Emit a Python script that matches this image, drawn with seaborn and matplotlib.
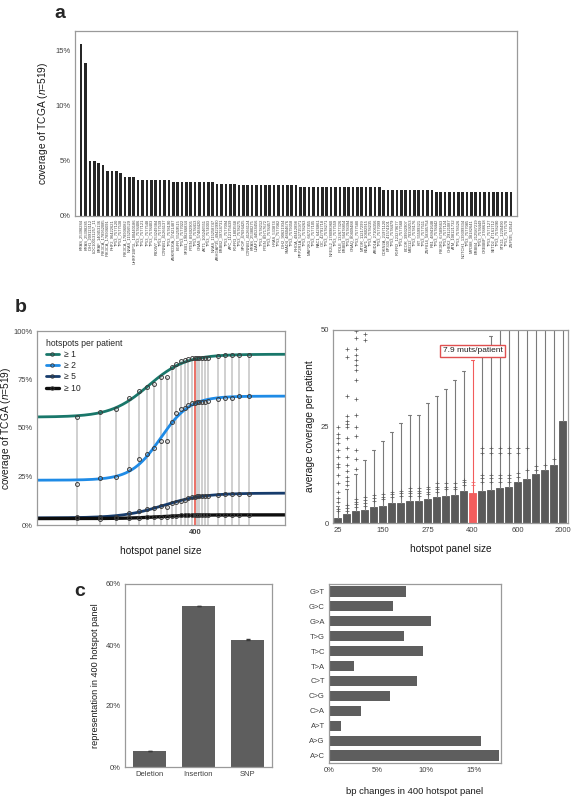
import numpy as np
import matplotlib
matplotlib.use('Agg')
import matplotlib.pyplot as plt
from matplotlib.lines import Line2D
from matplotlib.ticker import PercentFormatter, NullLocator
import seaborn as sns

sns.set_style('white')
plt.rcParams['font.family'] = ['Liberation Sans', 'DejaVu Sans']
plt.rcParams['mathtext.fontset'] = 'custom'
plt.rcParams['mathtext.rm'] = 'Liberation Sans'
plt.rcParams['mathtext.it'] = 'Liberation Sans:italic'
plt.rcParams['axes.edgecolor'] = '#9a9a9a'
plt.rcParams['axes.linewidth'] = 0.9
plt.rcParams['xtick.color'] = '#404040'
plt.rcParams['ytick.color'] = '#404040'
plt.rcParams['axes.labelcolor'] = '#1a1a1a'

# ---- panel a: coverage of single hotspots ----
hotspots = [
    'KRAS_25398284', 'KRAS_25398285', 'IDH1_209113112', 'LOC100131257_11', 'BRAF_140453136',
    'PIK3CA_178952085', 'PIK3CA_178936091', 'PHF2_96422621', 'TP53_7577120', 'TP53_7577538',
    'PIK3CA_178936082', 'NRAS_115256529', 'UHRF1BP1L_100440186', 'TP53_7578406', 'TP53_7577121',
    'TP53_7577548', 'TP53_7578403', 'FBXW7_153249384', 'TP53_7577539', 'CTNNB1_41266137',
    'TP53_7578190', 'ANKRD30A_37421487', 'EGFR_55259515', 'TP53_7577022', 'SF3B1_198266834',
    'PTEN_89692905', 'TP53_7578413', 'GNAS_57484420', 'AKT1_105246551', 'TP53_7574003',
    'NRAS_115258747', 'ARHGAP35_49422990', 'ERBB2_39724731', 'TP53_7577094', 'APC_112175639',
    'FGFR3_1803568', 'TP53_7578275', 'SPOP_47696425', 'CTNNB1_41266124', 'KRAS_25380275',
    'U2AF1_44524456', 'TP53_7578212', 'PTEN_89717672', 'TP53_7578457', 'HRAS_533874',
    'TP53_7577082', 'IDH2_90631934', 'SMAD4_48604676', 'TP53_7579358', 'RHOA_49412898',
    'PPP2R1A_52715971', 'TP53_7578263', 'MAP2K1_66727455', 'TP53_7577105', 'RAC1_6426861',
    'CIC_42791718', 'TP53_7578271', 'NFE2L2_178098960', 'TP53_7577559', 'POLE_132677326',
    'ERBB3_56478854', 'TP53_7578394', 'GNAQ_80409488', 'TP53_7577580', 'MTOR_11217299',
    'KEAP1_10602915', 'TP53_7578235', 'ARID1A_27106356', 'TP53_7577099', 'CDKN2A_21971120',
    'EP300_41574101', 'TP53_7578479', 'FGFR2_123279677', 'TP53_7577568', 'BCOR_39932907',
    'MED12_70339253', 'TP53_7578176', 'KIT_55599321', 'TP53_7577511', 'ZNF814_58385754',
    'RB1_48941648', 'TP53_7578442', 'PIK3R1_67589663', 'TP53_7577124', 'CHEK2_29121087',
    'ATM_108121732', 'TP53_7578526', 'NOTCH1_139399334', 'TP53_7577085', 'MYD88_38182641',
    'ERBB4_212587219', 'TP53_7578449', 'CREBBP_3788618', 'TP53_7577127', 'SETD2_47161712',
    'TP53_7578290', 'STK11_1220490', 'TP53_7577570', 'ZNF595_53542',
]
hotspot_cov = [
    15.6, 13.9, 5.0, 5.0, 4.8, 4.6, 4.1, 4.1, 4.1, 3.9,
    3.5, 3.5, 3.5, 3.3, 3.3, 3.3, 3.3, 3.3, 3.3, 3.3,
    3.3, 3.1, 3.1, 3.1, 3.1, 3.1, 3.1, 3.1, 3.1, 3.1,
    3.1, 2.9, 2.9, 2.9, 2.9, 2.9, 2.8, 2.8, 2.8, 2.8,
    2.8, 2.8, 2.8, 2.8, 2.8, 2.8, 2.8, 2.8, 2.8, 2.8,
    2.6, 2.6, 2.6, 2.6, 2.6, 2.6, 2.6, 2.6, 2.6, 2.6,
    2.6, 2.6, 2.6, 2.6, 2.6, 2.6, 2.6, 2.6, 2.6, 2.4,
    2.4, 2.4, 2.4, 2.4, 2.4, 2.4, 2.4, 2.4, 2.4, 2.4,
    2.4, 2.2, 2.2, 2.2, 2.2, 2.2, 2.2, 2.2, 2.2, 2.2,
    2.2, 2.2, 2.2, 2.2, 2.2, 2.2, 2.2, 2.2, 2.2,
]

# ---- panel b: panel size ----
panel_sizes = [25, 50, 75, 100, 125, 150, 175, 200, 225, 250, 275, 300, 325,
               350, 375, 400, 425, 450, 500, 550, 600, 800, 1000, 1200, 1500, 2000]
cov_ge1 = [55.8, 58.1, 60.0, 65.6, 69.1, 71.0, 72.8, 76.5, 76.1, 81.3, 82.8, 84.7, 85.1,
           85.4, 85.9, 85.9, 85.9, 85.9, 85.9, 86.0, 86.1, 86.9, 87.4, 87.4, 87.6, 87.8]
cov_ge2 = [21.1, 24.1, 24.9, 28.9, 33.9, 36.4, 39.5, 43.5, 43.5, 53.1, 57.9, 59.8, 60.5,
           62.0, 62.7, 63.1, 63.2, 63.4, 63.4, 63.6, 63.9, 64.9, 65.3, 65.3, 66.5, 66.5]
cov_ge5 = [4.0, 4.0, 4.2, 6.0, 7.4, 8.1, 8.9, 9.6, 9.3, 11.2, 11.9, 12.5, 12.9,
           13.9, 14.4, 14.6, 14.8, 14.8, 14.9, 15.0, 15.0, 15.6, 15.9, 15.9, 16.1, 16.1]
cov_ge10 = [3.4, 3.3, 3.4, 3.6, 3.8, 4.0, 4.1, 4.3, 4.3, 4.6, 4.8, 4.9, 5.0,
            5.0, 5.0, 5.0, 5.0, 5.0, 5.1, 5.1, 5.1, 5.2, 5.2, 5.2, 5.2, 5.2]
threshold_labels = ['\u2265 1', '\u2265 2', '\u2265 5', '\u2265 10']

box_q3 = [1.4, 2.3, 3.1, 3.4, 4.2, 4.4, 5.1, 5.3, 5.7, 5.7, 6.3, 6.7, 7.1,
          7.3, 8.2, 7.9, 8.4, 8.6, 9.0, 9.2, 10.5, 11.5, 12.6, 13.8, 15.1, 26.5]
whisker_top = [4.4, 8.7, 12.6, 16.2, 18.8, 21.2, 23.7, 26.0, 27.9, 27.9, 31.1, 32.9, 34.8,
               37.0, 39.3, 42.3, 45.0, 48.4, 55.0, 58.0, 62.0, 66.0, 70.0, 75.0, 80.0, 95.0]
outliers = [
    [3.0, 3.7, 5.5, 6.4, 8.1, 10.3, 12.5, 14.6, 15.2, 17.2, 18.9, 20.6, 21.9, 23.1, 25.0],
    [3.2, 4.0, 4.7, 9.8, 10.8, 12.0, 13.5, 15.0, 17.2, 19.5, 22.1, 25.0, 25.7, 26.4, 27.6,
     33.0, 43.0, 45.2],
    [4.1, 4.8, 5.5, 6.2, 14.0, 16.5, 19.0, 22.5, 25.0, 28.0, 32.0, 37.1, 39.7, 41.0, 42.3,
     43.6, 45.0, 47.9, 49.7],
    [4.4, 5.1, 6.0, 6.7, 47.3, 49.0],
    [5.8, 6.5, 7.2],
    [6.1, 6.8, 7.5],
    [6.8, 7.5, 8.1],
    [7.0, 7.7, 8.4],
    [7.0, 7.7, 8.3, 9.0],
    [7.0, 7.7, 8.3, 9.0],
    [7.5, 8.0, 8.7, 9.4],
    [8.0, 8.7, 9.4, 10.3],
    [8.7, 9.4, 10.3],
    [8.7, 9.4, 10.3],
    [9.8, 10.5, 11.2],
    [9.8, 10.5],
    [10.7, 11.6, 12.5, 18.2, 19.4],
    [10.7, 11.6, 12.5, 18.2, 19.4],
    [10.7, 11.6, 12.5, 18.2, 19.4],
    [10.7, 11.6, 12.5, 18.2, 19.4],
    [12.0, 12.9, 18.2, 19.4],
    [13.8, 19.4],
    [13.8, 14.8],
    [15.0],
    [16.5],
    [],
]
muts_400 = '7.9 muts/patient'

# ---- panel c: mutation classes in the 400 panel ----
mut_types = ['Deletion', 'Insertion', 'SNP']
mut_share = [5.3, 52.8, 41.8]
mut_err = [0.1, 0.15, 0.1]
bp_changes = ['G>T', 'G>C', 'G>A', 'T>G', 'T>C', 'T>A',
              'C>T', 'C>G', 'C>A', 'A>T', 'A>G', 'A>C']
bp_share = [8.0, 6.6, 10.6, 7.8, 9.7, 2.6, 9.1, 6.3, 3.3, 1.2, 15.7, 17.6]

# panel-size axis of b: log(size + 20), squeezed above 400
KNEE = np.log10(420)
SQUEEZE = 0.65


def size_fwd(x):
    u = np.log10(np.maximum(np.asarray(x, float), -19.9) + 20)
    return np.where(u <= KNEE, u, KNEE + SQUEEZE * (u - KNEE))


def size_inv(f):
    f = np.asarray(f, float)
    u = np.where(f <= KNEE, f, KNEE + (f - KNEE) / SQUEEZE)
    return 10 ** u - 20


def logistic_fit(x, y, grid):
    # least squares logistic on the size axis: grid search for midpoint/slope,
    # closed form for the two asymptotes
    fx = size_fwd(x)
    y = np.asarray(y, float)
    mids = np.linspace(1.4, 3.4, 201)[:, None, None]
    slopes = np.linspace(0.5, 30, 119)[None, :, None]
    z = 1 / (1 + np.exp(-slopes * (fx - mids)))
    zm = z.mean(-1, keepdims=True)
    ym = y.mean()
    b = ((z - zm) * (y - ym)).sum(-1) / ((z - zm) ** 2).sum(-1)
    a = ym - b * zm[..., 0]
    err = ((a[..., None] + b[..., None] * z - y) ** 2).sum(-1)
    i, j = np.unravel_index(np.argmin(err), err.shape)
    m, s = mids[i, 0, 0], slopes[0, j, 0]
    return a[i, j] + b[i, j] / (1 + np.exp(-s * (size_fwd(grid) - m)))


W, H = 572, 797
fig = plt.figure(figsize=(W / 100, H / 100), dpi=100)


def box(l, t, r, b):
    return [l / W, 1 - b / H, (r - l) / W, (b - t) / H]


tick_fs = 5.5
lab_fs = 7.3

# ---------------- a ----------------
ax = fig.add_axes(box(75, 31, 517, 216))
sns.barplot(x=hotspots, y=hotspot_cov, color='#262626', saturation=1, width=0.6,
            linewidth=0, ax=ax)
ax.set_xlim(-1.4, len(hotspots) - 1 + 1.4)
ax.set_ylim(0, 16.8)
ax.set_yticks([0, 5, 10, 15])
ax.yaxis.set_major_formatter(PercentFormatter(decimals=0))
ax.tick_params(axis='y', labelsize=tick_fs, length=0, pad=3)
ax.tick_params(axis='x', labelsize=2.9, length=0, pad=2, labelrotation=90)
ax.set_ylabel(r'coverage of TCGA ($\it{n}$=519)', fontsize=lab_fs, labelpad=4)
ax.set_xlabel('')
fig.text(60 / W, 1 - 13 / H, 'a', fontsize=14, fontweight='bold', ha='center', va='center')

# ---------------- b left ----------------
ax = fig.add_axes(box(37, 331, 285, 525))
ax.set_xscale('function', functions=(size_fwd, size_inv))
f25, f400 = size_fwd(25), size_fwd(400)
span = (f400 - f25) / ((195 - 77) / 248)
f_left = f25 - (77 - 37) / 248 * span
x0, x1 = float(size_inv(f_left)), float(size_inv(f_left + span))
ax.set_xlim(x0, x1)
ax.set_ylim(0, 100)
grey = [s for s in panel_sizes if s != 400]
ax.vlines(grey, 0, [c for s, c in zip(panel_sizes, cov_ge1) if s != 400],
          color='#c4c4c4', lw=1.1, zorder=1)
ax.vlines([400], 0, [cov_ge1[panel_sizes.index(400)]], color='#e8574c', lw=1.2, zorder=1)

curve_colors = ['#19776a', '#1f8be6', '#173c6c', '#0d0d0d']
curve_widths = [2.0, 2.0, 2.0, 2.4]
grid = size_inv(np.linspace(f_left, f_left + span, 300))
for cov, col, lw in zip([cov_ge1, cov_ge2, cov_ge5, cov_ge10], curve_colors, curve_widths):
    sns.lineplot(x=grid, y=logistic_fit(panel_sizes, cov, grid), color=col, lw=lw,
                 ax=ax, zorder=2)
    ax.plot(panel_sizes, cov, 'o', ms=2.8, mfc='none', mec='#3a3a3a', mew=0.7, zorder=3)

ax.xaxis.set_minor_locator(NullLocator())
ax.set_xticks([400])
ax.set_xticklabels(['400'], fontweight='bold')
ax.set_yticks([0, 25, 50, 75, 100])
ax.yaxis.set_major_formatter(PercentFormatter(decimals=0))
ax.tick_params(labelsize=tick_fs, length=0, pad=3)
ax.set_ylabel(r'coverage of TCGA ($\it{n}$=519)', fontsize=lab_fs, labelpad=0.5)
ax.set_xlabel('hotspot panel size', fontsize=lab_fs, labelpad=7)
handles = [Line2D([], [], color=c, lw=lw, marker='o', ms=2.5, mfc='none', mec='#333333',
                  mew=0.6) for c, lw in zip(curve_colors, curve_widths)]
leg = ax.legend(handles, threshold_labels, title='hotspots per patient', loc='upper left',
                frameon=False, fontsize=6.2, title_fontsize=6.2, handlelength=1.6,
                handletextpad=0.5, labelspacing=0.25, borderaxespad=0.3,
                bbox_to_anchor=(0.01, 0.99))
leg._legend_box.align = 'left'
fig.text(21 / W, 1 - 307 / H, 'b', fontsize=14, fontweight='bold', ha='center', va='center')

# ---------------- b right ----------------
ax = fig.add_axes(box(333, 330, 568, 523))
stats = [dict(q1=0, med=q, q3=q, whislo=0, whishi=w, fliers=f, label=str(s))
         for s, q, w, f in zip(panel_sizes, box_q3, whisker_top, outliers)]
bp = ax.bxp(stats, positions=range(len(stats)), widths=0.75, capwidths=0.3,
            patch_artist=True, showfliers=True,
            boxprops=dict(facecolor='#5a5a5a', edgecolor='#5a5a5a', lw=0.6),
            whiskerprops=dict(color='#7a7a7a', lw=0.8),
            capprops=dict(color='#7a7a7a', lw=0.8),
            medianprops=dict(lw=0),
            flierprops=dict(marker='+', ms=2.4, mec='#555555', mew=0.5))
i400 = panel_sizes.index(400)
red = '#f25c5c'
bp['boxes'][i400].set_facecolor(red)
bp['boxes'][i400].set_edgecolor(red)
for k in (2 * i400, 2 * i400 + 1):
    bp['whiskers'][k].set_color(red)
    bp['caps'][k].set_color(red)
bp['fliers'][i400].set_markeredgecolor(red)
ax.text(i400, 44.6, muts_400, ha='center', va='center', fontsize=6, color='#222222',
        zorder=5, bbox=dict(boxstyle='square,pad=0.3', fc='white', ec='#e05050', lw=1.0))
ax.set_xlim(-0.5, len(panel_sizes) - 0.4)
ax.set_ylim(0, 50)
ax.set_yticks([0, 25, 50])
ax.set_xticks(range(len(panel_sizes)))
ax.set_xticklabels([str(s) if i % 5 == 0 else '' for i, s in enumerate(panel_sizes)])
ax.tick_params(labelsize=tick_fs, length=0, pad=3)
ax.set_ylabel('average coverage per patient', fontsize=lab_fs, labelpad=4)
ax.set_xlabel('hotspot panel size', fontsize=lab_fs, labelpad=7)

# ---------------- c left ----------------
ax = fig.add_axes(box(125, 584, 272, 767))
sns.barplot(x=mut_types, y=mut_share, color='#5e5e5e', saturation=1, width=0.67,
            linewidth=0, ax=ax)
ax.errorbar(range(len(mut_types)), mut_share, yerr=mut_err, fmt='none', ecolor='#3a3a3a',
            elinewidth=0.5, capsize=1.2)
ax.set_xlim(-0.5, 2.5)
ax.set_ylim(0, 60)
ax.set_yticks([0, 20, 40, 60])
ax.yaxis.set_major_formatter(PercentFormatter(decimals=0))
ax.tick_params(labelsize=tick_fs, length=0, pad=3)
ax.set_ylabel('representation in 400 hotspot panel', fontsize=6.6, labelpad=4)
fig.text(80 / W, 1 - 592 / H, 'c', fontsize=14, fontweight='bold', ha='center', va='center')

# ---------------- c right ----------------
ax = fig.add_axes(box(329, 584, 501, 763))
sns.barplot(x=bp_share, y=bp_changes, orient='h', color='#5e5e5e', saturation=1,
            width=0.68, linewidth=0, ax=ax)
ax.set_xlim(0, 17.8)
ax.set_xticks([0, 5, 10, 15])
ax.xaxis.set_major_formatter(PercentFormatter(decimals=0))
ax.tick_params(labelsize=tick_fs, length=0, pad=3)
ax.set_xlabel('bp changes in 400 hotspot panel', fontsize=6.8, labelpad=9)
ax.set_ylabel('')

fig.savefig('out.png', dpi=100)
